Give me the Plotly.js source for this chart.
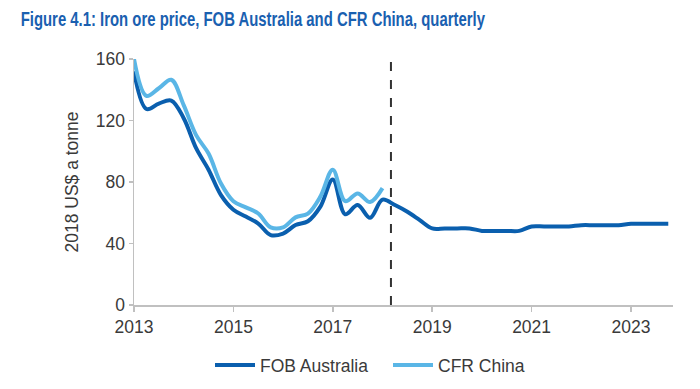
<!DOCTYPE html>
<html>
<head>
<meta charset="utf-8">
<script src="https://cdn.plot.ly/plotly-3.0.1.min.js"></script>
<style>
html,body{margin:0;padding:0;background:#fff;}
#chart{width:700px;height:389px;}
</style>
</head>
<body>
<div id="chart"></div>
<script>
// Quarterly data, 2013 Q1 onward (decimal year positions)
const fobQuarters = [];
for (let i = 0; i < 44; i++) fobQuarters.push(2013 + i * 0.25);
const cfrQuarters = fobQuarters.slice(0, 21);

const fobAustralia = [152, 127.5, 131, 133, 121.5, 102, 88, 71.5, 62, 57.5, 53, 45.5, 46.5, 52, 54.5, 64, 81.7, 59, 65, 56.7, 68.5,
  65, 60.6, 55.2, 49.8, 49.8, 49.8, 49.8, 48.2, 48.2, 48.2, 48.2, 51.1, 51.1, 51.1, 51.1, 51.9, 51.9, 51.9, 51.9, 52.8, 52.8, 52.8, 52.8];
const cfrChina = [160, 136, 141, 146.5, 130, 110.5, 98.5, 79, 67.5, 63.5, 59.5, 50.5, 50.5, 57, 59.5, 70.5, 88, 67.5, 72.6, 67, 76];

const yearTicks = [2013, 2015, 2017, 2019, 2021, 2023];
const yTicks = [0, 40, 80, 120, 160];
const forecastStart = 2018.17;

const traces = [
  {x: fobQuarters, y: fobAustralia, name: 'FOB Australia', type: 'scatter', mode: 'lines',
   line: {color: '#0a5fae', width: 4, shape: 'spline', smoothing: 1}},
  {x: cfrQuarters, y: cfrChina, name: 'CFR China', type: 'scatter', mode: 'lines',
   line: {color: '#5ab6e6', width: 4, shape: 'spline', smoothing: 1}}
];

const layout = {
  width: 700, height: 389,
  margin: {l: 134, r: 27, t: 59, b: 84},
  paper_bgcolor: '#fff', plot_bgcolor: '#fff',
  font: {family: 'Liberation Sans, Arial, sans-serif', size: 17.5, color: '#3a3a3a'},
  title: {text: '<b>Figure 4.1: Iron ore price, FOB Australia and CFR China, quarterly</b>',
    font: {family: 'Liberation Sans, Arial, sans-serif', size: 20.5, color: '#1a60b0'},
    x: 20.7 / 700, xref: 'container', xanchor: 'left', y: 1 - 19 / 389, yref: 'container', yanchor: 'middle'},
  xaxis: {range: [2013, 2023.845], tickvals: yearTicks, ticktext: yearTicks.map(String),
    showgrid: false, zeroline: false, showline: true, linecolor: '#c0c0c0', linewidth: 1.5,
    ticks: 'outside', ticklen: 5, tickcolor: '#c0c0c0', tickwidth: 1.5,
    tickfont: {size: 17.5, color: '#3a3a3a'}, fixedrange: true},
  yaxis: {range: [0, 160], tickvals: yTicks, showgrid: false, zeroline: false,
    showline: true, linecolor: '#c0c0c0', linewidth: 1.5,
    ticks: 'outside', ticklen: 4, tickcolor: '#c0c0c0', tickwidth: 1.5,
    tickfont: {size: 17.5, color: '#3a3a3a'},
    title: {text: '2018 US$ a tonne', font: {size: 17.5, color: '#3a3a3a'}, standoff: 12}},
  shapes: [{type: 'line', xref: 'x', yref: 'paper', x0: forecastStart, x1: forecastStart, y0: 0, y1: 1,
    line: {color: '#333', width: 2, dash: 'dash'}}],
  legend: {orientation: 'h', x: 0.5 + 38 / 700, xanchor: 'center', xref: 'container', y: 1 - 365 / 389, yanchor: 'middle', yref: 'container',
    font: {size: 17.5, color: '#3a3a3a'}, itemwidth: 40, entrywidth: 123},
  showlegend: true
};

Plotly.newPlot('chart', traces, layout, {displayModeBar: false, staticPlot: true}).then(function () {
  // condense the title horizontally (reference uses a narrow bold face)
  const t = document.querySelector('.gtitle');
  if (t) {
    const bb = t.getBBox();
    const target = 465;
    const sx = target / bb.width;
    const x0 = bb.x;
    t.setAttribute('transform', 'matrix(' + sx + ',0,0,1,' + (x0 * (1 - sx)) + ',0)');
  }
});
</script>
</body>
</html>
